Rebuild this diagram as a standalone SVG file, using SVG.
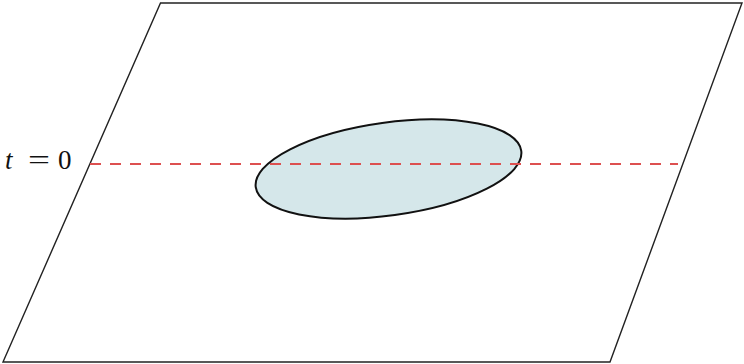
<svg xmlns="http://www.w3.org/2000/svg" width="744" height="364" viewBox="0 0 744 364">
<style>
.plane{fill:#ffffff;stroke:#222;stroke-width:1.4;stroke-linejoin:miter}
.cut{stroke:#dd5050;stroke-width:1.8;stroke-dasharray:11 9;fill:none}
.blob{fill:#d5e7ea;stroke:#111;stroke-width:2}
.lbl{font-family:"Liberation Serif","Times New Roman",serif;font-size:27px;fill:#111}
</style>
<rect width="744" height="364" fill="#fff"/>
<g id="plane"><polygon class="plane" points="160.5,3 742,3 610,362 3,362"/></g>
<g id="region"><ellipse class="blob" cx="388.5" cy="169" rx="134" ry="46.5" transform="rotate(-7.8 388.5 169)"/></g>
<g id="connectors"><line class="cut" x1="90" y1="164" x2="678" y2="164"/></g>
<g id="label"><text class="lbl" y="169"><tspan x="5" font-style="italic">t</tspan><tspan x="28" textLength="22" lengthAdjust="spacingAndGlyphs">=</tspan><tspan x="58">0</tspan></text></g>
</svg>
